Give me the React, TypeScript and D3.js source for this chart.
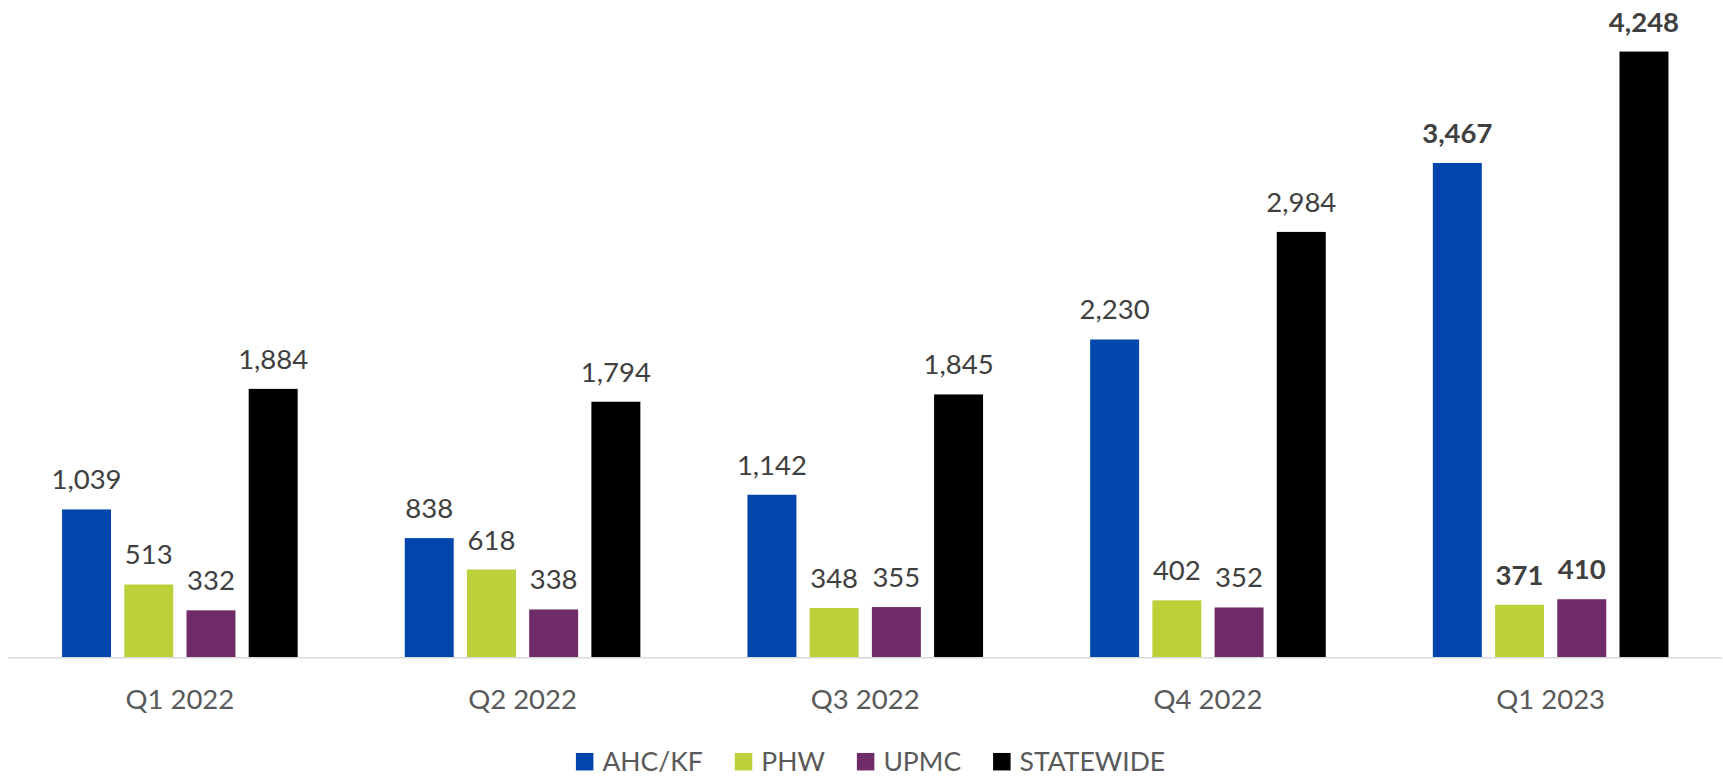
import React, { useEffect, useRef } from 'react';
import * as d3 from 'd3';

const quarters = ["Q1 2022", "Q2 2022", "Q3 2022", "Q4 2022", "Q1 2023"];
const seriesNames = ["AHC/KF", "PHW", "UPMC", "STATEWIDE"];
const seriesColors = ["#0046AD", "#BCD03A", "#702C69", "#000000"];

const ahcKf = [1039, 838, 1142, 2230, 3467];
const phw = [513, 618, 348, 402, 371];
const upmc = [332, 338, 355, 352, 410];
const statewide = [1884, 1794, 1845, 2984, 4248];

const boldQuarters = ["Q1 2023"];

const W = 1723;
const H = 776;

const App = () => {
  const svgRef = useRef<SVGSVGElement>(null);

  useEffect(() => {
    const values = [ahcKf, phw, upmc, statewide];
    const rows = quarters.map((q, i) => ({
      quarter: q,
      items: seriesNames.map((name, s) => ({ name, value: values[s][i], color: seriesColors[s] })),
    }));

    const margin = { top: 15.6, right: 1, bottom: 118.3, left: 8.5 };
    const plotW = W - margin.left - margin.right;
    const plotH = H - margin.top - margin.bottom;

    const svgEl = d3.select(svgRef.current);
    svgEl.selectAll("*").remove();
    const svg = svgEl.append("g").attr("transform", `translate(${margin.left},${margin.top})`);

    const x0 = d3.scaleBand().domain(quarters).range([0, plotW]).padding(0);
    const groupW = x0.bandwidth() * 0.6875;
    const x1 = d3.scaleBand().domain(seriesNames).range([0, groupW]).paddingInner(0.213).paddingOuter(0);
    const y = d3.scaleLinear().domain([0, 4500]).range([plotH, 0]);

    // bars
    const groups = svg.selectAll(".grp")
      .data(rows)
      .enter().append("g")
      .attr("transform", d => `translate(${(x0(d.quarter) || 0) + (x0.bandwidth() - groupW) / 2},0)`);

    groups.selectAll("rect")
      .data(d => d.items)
      .enter().append("rect")
      .attr("x", d => x1(d.name) || 0)
      .attr("y", d => y(d.value))
      .attr("width", x1.bandwidth())
      .attr("height", d => plotH - y(d.value))
      .attr("fill", d => d.color);

    // value labels
    groups.each(function (row) {
      const bold = boldQuarters.includes(row.quarter);
      d3.select(this).selectAll("text")
        .data(row.items)
        .enter().append("text")
        .attr("x", d => (x1(d.name) || 0) + x1.bandwidth() / 2)
        .attr("y", d => y(d.value) - 20)
        .attr("text-anchor", "middle")
        .attr("fill", "#404040")
        .style("font-family", "Lato")
        .style("font-size", "27.5px")
        .style("font-weight", bold ? "bold" : "normal")
        .text(d => d3.format(",")(d.value));
    });

    // baseline
    svg.append("line")
      .attr("x1", 0).attr("x2", plotW)
      .attr("y1", plotH).attr("y2", plotH)
      .attr("stroke", "#d9d9d9")
      .attr("stroke-width", 1.5);

    // category labels
    svg.selectAll(".cat")
      .data(quarters)
      .enter().append("text")
      .attr("x", d => (x0(d) || 0) + x0.bandwidth() / 2)
      .attr("y", plotH + 51.5)
      .attr("text-anchor", "middle")
      .attr("fill", "#595959")
      .style("font-family", "Lato")
      .style("font-size", "27.5px")
      .text(d => d);

    // legend
    const legendFont = 26.5;
    const sq = 17.5;
    const textGap = 9;
    const itemGap = 32;
    const ctx = document.createElement("canvas").getContext("2d");
    const widths = seriesNames.map(n => {
      if (!ctx) return n.length * 14;
      ctx.font = `${legendFont}px Lato`;
      return ctx.measureText(n).width;
    });
    const itemW = widths.map(w => sq + textGap + w);
    const total = d3.sum(itemW) + itemGap * (seriesNames.length - 1);
    let lx = 870.5 - total / 2;
    const legend = svgEl.append("g");
    const ly = 761.7;
    seriesNames.forEach((n, i) => {
      legend.append("rect")
        .attr("x", lx).attr("y", ly - sq / 2)
        .attr("width", sq).attr("height", sq)
        .attr("fill", seriesColors[i]);
      legend.append("text")
        .attr("x", lx + sq + textGap)
        .attr("y", ly + 9.5)
        .attr("fill", "#595959")
        .style("font-family", "Lato")
        .style("font-size", `${legendFont}px`)
        .text(n);
      lx += itemW[i] + itemGap;
    });
  }, []);

  return (
    <svg
      ref={svgRef}
      width={W}
      height={H}
      style={{ position: "absolute", left: 0, top: 0, background: "#ffffff" }}
    />
  );
};

export default App;
